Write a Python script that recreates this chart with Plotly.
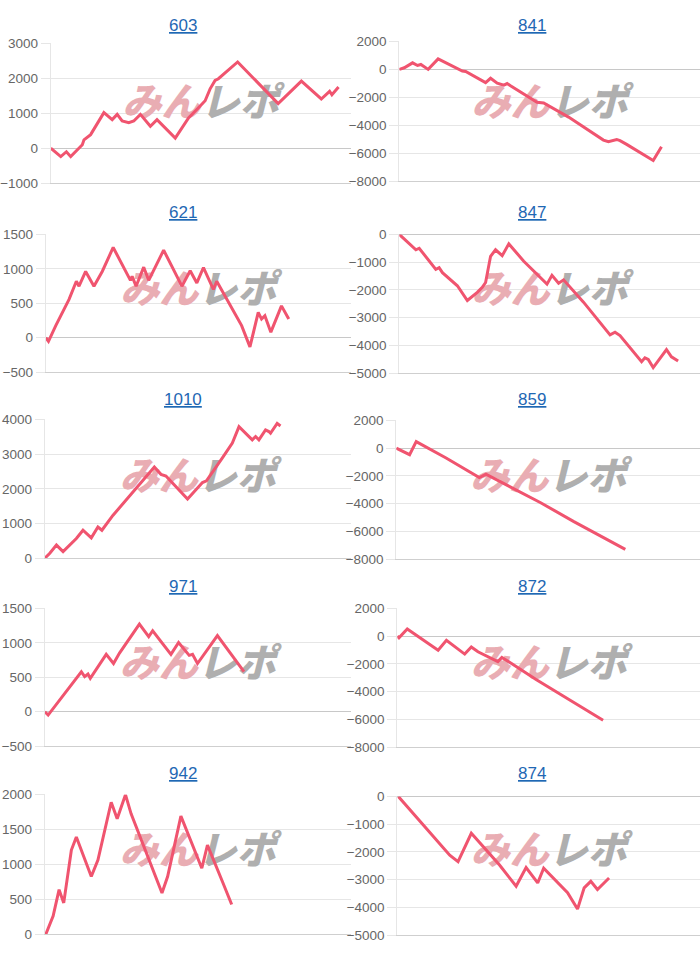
import plotly.graph_objects as go

# ---------------- data ----------------
titles = ["603", "841", "621", "847", "1010", "859", "971", "872", "942", "874"]

x_603 = [0, 30, 47, 60, 95, 100, 120, 160, 185, 200, 215, 235, 250, 270, 300, 320, 375, 400, 415, 445,
         465, 480, 495, 505, 563, 685, 755, 815, 840, 847, 867]
y_603 = [0, -240, -100, -240, 100, 240, 390, 1020, 820, 970, 780, 730, 780, 970, 630, 820, 290, 630, 870, 1160,
         1360, 1700, 1940, 1990, 2470, 1280, 1920, 1410, 1630, 1530, 1750]

x_841 = [0, 15, 40, 55, 65, 87, 117, 190, 200, 260, 275, 295, 315, 325, 335, 415, 435, 510, 615, 630, 655, 665,
         685, 765, 790]
y_841 = [0, 118, 470, 282, 353, 0, 753, -118, -150, -941, -635, -988, -1129, -1012, -1176, -2353, -2400, -3412,
         -5059, -5176, -5012, -5100, -5365, -6518, -5529]

x_621 = [0, 8, 30, 70, 92, 100, 120, 145, 170, 203, 255, 260, 272, 295, 310, 355, 410, 435, 455, 475, 505, 515,
         590, 615, 640, 650, 660, 678, 710, 732]
y_621 = [0, -52, 176, 557, 819, 748, 962, 748, 962, 1310, 833, 890, 748, 1024, 833, 1271, 748, 971, 795, 1019,
         700, 819, 176, -133, 367, 271, 319, 81, 462, 271]

x_847 = [0, 45, 50, 60, 110, 120, 130, 175, 205, 235, 250, 260, 275, 290, 310, 330, 375, 395, 445, 460, 480, 495,
         555, 635, 650, 665, 730, 740, 750, 765, 805, 820, 840]
y_847 = [0, -495, -554, -500, -1262, -1203, -1380, -1851, -2382, -2087, -1910, -1733, -790, -554, -767, -342,
         -967, -1203, -1792, -1474, -1757, -1639, -2441, -3620, -3526, -3644, -4587, -4446, -4505, -4800, -4151,
         -4410, -4564]

x_1010 = [0, 15, 35, 55, 95, 115, 140, 160, 172, 205, 330, 350, 365, 430, 475, 487, 535, 565, 585, 625, 635, 645,
          665, 675, 680, 700, 710]
y_1010 = [0, 142, 379, 190, 569, 806, 588, 900, 806, 1232, 2626, 2417, 2370, 1706, 2180, 2228, 2891, 3318, 3792,
          3412, 3507, 3412, 3697, 3650, 3602, 3887, 3811]

x_859 = [0, 40, 60, 150, 250, 270, 435, 535, 690]
y_859 = [0, -470, 470, -706, -2118, -1882, -3930, -5294, -7294]

x_971 = [0, 10, 110, 120, 130, 137, 185, 207, 225, 285, 313, 325, 380, 403, 435, 445, 460, 520, 600]
y_971 = [0, -48, 581, 510, 548, 486, 833, 700, 852, 1271, 1090, 1176, 833, 1005, 819, 833, 700, 1105, 581]

x_872 = [0, 5, 30, 123, 148, 203, 223, 243, 303, 315, 343, 418, 620]
y_872 = [0, -118, 517, -1010, -305, -1292, -775, -1128, -1833, -1527, -1950, -3125, -6063]

x_942 = [3, 25, 43, 57, 80, 95, 140, 160, 200, 218, 243, 260, 353, 370, 410, 440, 473, 490, 523, 535, 563]
y_942 = [0, 260, 637, 448, 1204, 1392, 826, 1062, 1888, 1652, 1997, 1723, 590, 826, 1690, 1322, 944, 1274, 873,
         755, 425]

x_874 = [3, 123, 158, 183, 223, 308, 358, 388, 423, 441, 513, 543, 563, 583, 603, 638]
y_874 = [0, -1647, -2118, -2353, -1329, -2471, -3235, -2565, -3118, -2588, -3471, -4059, -3294, -3059, -3353,
         -2941]

series_x = [x_603, x_841, x_621, x_847, x_1010, x_859, x_971, x_872, x_942, x_874]
series_y = [y_603, y_841, y_621, y_847, y_1010, y_859, y_971, y_872, y_942, y_874]

y_min = [-1000, -8000, -500, -5000, 0, -8000, -500, -8000, 0, -5000]
y_max = [3000, 2000, 1500, 0, 4000, 2000, 1500, 2000, 2000, 0]
y_step = [1000, 2000, 500, 1000, 1000, 2000, 500, 2000, 500, 1000]

# ---------------- layout geometry (pixels) ----------------
W, H = 700, 956
# (left, right, top, bottom) of each plot area
boxes = [(48, 349, 37, 179), (398, 700, 35, 177),
         (43, 349, 231, 371), (398, 700, 231, 372),
         (42, 349, 419, 560), (395, 700, 420, 561),
         (42, 349, 611, 751), (396, 700, 611, 752),
         (42, 349, 800, 942), (396, 700, 802, 943)]
row_tops = [0, 190, 380, 570, 760]

LINE = "#f0546f"
GRID = "#e6e6e6"
TICKFONT = dict(family="Liberation Sans, Arial, sans-serif", size=13.5, color="#666666")

fig = go.Figure()
layout = dict(width=W, height=H, margin=dict(l=0, r=0, t=0, b=0),
              paper_bgcolor="white", plot_bgcolor="white", showlegend=False,
              annotations=[])

for i in range(10):
    k = "" if i == 0 else str(i + 1)
    left, right, top, bottom = boxes[i]
    row = i // 2
    xr = [0, (right - left) * 3]
    ymin, ymax = y_min[i], y_max[i]

    # watermark (drawn first so the line sits on top)
    cy_px = row_tops[row] + 101
    frac = (cy_px - top) / (bottom - top)
    wy = ymax - frac * (ymax - ymin)
    wx = (xr[0] + xr[1]) / 2
    fig.add_trace(go.Scatter(
        x=[wx, wx], y=[wy, wy], mode="text", text=["みん", "レポ"],
        textposition=["middle left", "middle right"],
        textfont=dict(family="Noto Sans CJK JP", size=39, weight=900, style="italic",
                      color=["#e9adb3", "#afafaf"]),
        hoverinfo="skip", xaxis="x" + k, yaxis="y" + k, cliponaxis=False))

    fig.add_trace(go.Scatter(
        x=series_x[i], y=series_y[i], mode="lines",
        line=dict(color=LINE, width=3, shape="linear"),
        xaxis="x" + k, yaxis="y" + k, hoverinfo="y"))

    layout["xaxis" + k] = dict(domain=[left / W, right / W], range=xr, anchor="y" + k,
                               showgrid=False, zeroline=False, showticklabels=False,
                               ticks="", showline=True, linecolor="#cfcfcf", linewidth=1,
                               fixedrange=True)
    layout["yaxis" + k] = dict(domain=[1 - bottom / H, 1 - top / H], range=[ymin, ymax],
                               anchor="x" + k, tick0=ymin, dtick=y_step[i],
                               showgrid=True, gridcolor=GRID, gridwidth=1,
                               zeroline=True, zerolinecolor="#c8c8c8", zerolinewidth=1,
                               showline=True, linecolor=GRID, linewidth=1,
                               ticks="outside", ticklen=9, tickcolor=GRID,
                               tickfont=TICKFONT, fixedrange=True)

    tx = 181 if i % 2 == 0 else 531
    ty = row_tops[row] + 19
    layout["annotations"].append(dict(
        text="<u>" + titles[i] + "</u>", xref="paper", yref="paper",
        x=tx / W, y=1 - ty / H, xanchor="center", yanchor="middle", showarrow=False,
        font=dict(family="Liberation Sans, Arial, sans-serif", size=17, color="#1f68b4")))

fig.update_layout(**layout)
fig.write_html("out.html")
